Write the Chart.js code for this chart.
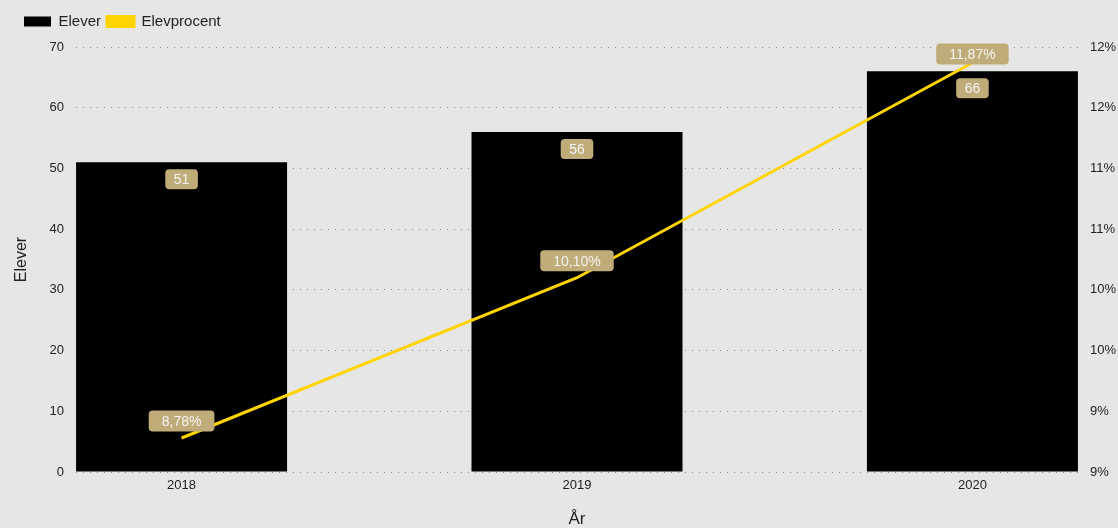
<!DOCTYPE html>
<html lang="en">
<head>
  <meta charset="UTF-8" />
  <title>Elever per år</title>
  <script src="https://cdn.jsdelivr.net/npm/chart.js"></script>
  <style>
    html, body { margin: 0; padding: 0; background: #e6e6e6; }
    #chartContainer { width: 1118px; height: 528px; }
  </style>
</head>
<body>

  <div id="chartContainer">
    <canvas id="elevChart"></canvas>
  </div>

  <script>
    // data
    const years = [2018, 2019, 2020];
    const elever = [51, 56, 66];
    const elevprocent = [8.78, 10.10, 11.87];

    Chart.defaults.font.family = "Arial, 'Liberation Sans', sans-serif";
    Chart.defaults.color = '#222';

    const labelBg = '#c0ac78';

    // extra room under the legend so the plot starts lower
    const legendGap = {
      id: 'legendGap',
      beforeLayout(chart) {
        const lg = chart.legend;
        if (lg && !lg._gapPatched) {
          const fit = lg.fit;
          lg.fit = function () {
            fit.call(this);
            this.height += 8;
          };
          lg._gapPatched = true;
        }
      }
    };

    // small stand-in for the datalabels plugin (no network for extra plugins)
    const valueLabels = {
      id: 'valueLabels',
      afterDatasetsDraw(chart) {
        const ctx = chart.ctx;
        const area = chart.chartArea;
        ctx.save();
        ctx.font = "14px Arial, 'Liberation Sans', sans-serif";
        ctx.textAlign = 'center';
        ctx.textBaseline = 'middle';
        chart.data.datasets.forEach((ds, di) => {
          const meta = chart.getDatasetMeta(di);
          meta.data.forEach((el, i) => {
            let text, cy, padX, h;
            if (ds.type === 'line') {
              text = ds.data[i].y.toFixed(2).replace('.', ',') + '%';
              cy = Math.max(el.y - 17, area.top + 7);
              padX = 13; h = 21;
            } else {
              text = String(ds.data[i].y);
              cy = el.y + 17;
              padX = 8.5; h = 20;
            }
            const w = ctx.measureText(text).width + padX * 2;
            ctx.fillStyle = labelBg;
            ctx.beginPath();
            ctx.roundRect(el.x - w / 2, cy - h / 2, w, h, 4);
            ctx.fill();
            ctx.fillStyle = '#f4f4f4';
            ctx.fillText(text, el.x, cy + 1);
          });
        });
        ctx.restore();
      }
    };

    const ctx = document.getElementById('elevChart').getContext('2d');
    new Chart(ctx, {
      type: 'bar',
      data: {
        datasets: [
          {
            label: 'Elever',
            data: years.map((y, i) => ({ x: y, y: elever[i] })),
            backgroundColor: '#000',
            borderWidth: 0,
            yAxisID: 'y',
            order: 1,
            barPercentage: 0.667,
            categoryPercentage: 0.8
          },
          {
            type: 'line',
            label: 'Elevprocent',
            data: years.map((y, i) => ({ x: y, y: elevprocent[i] })),
            borderColor: '#ffd400',
            backgroundColor: '#ffd400',
            borderWidth: 3,
            pointRadius: 0,
            tension: 0,
            yAxisID: 'y1',
            order: 0
          }
        ]
      },
      options: {
        responsive: true,
        maintainAspectRatio: false,
        animation: false,
        layout: { padding: { left: 18, right: 0, top: 8, bottom: 0 } },
        plugins: {
          tooltip: { enabled: false },
          legend: {
            position: 'top',
            align: 'start',
            labels: {
              boxWidth: 27,
              boxHeight: 10,
              padding: 6,
              color: '#222',
              font: { size: 15 },
              sort: (a, b) => a.datasetIndex - b.datasetIndex
            }
          }
        },
        scales: {
          x: {
            type: 'linear',
            offset: false,
            min: 2017.733,
            max: 2020.267,
            grid: { display: false, drawTicks: false },
            border: { display: false },
            afterBuildTicks: (scale) => {
              scale.ticks = years.map(v => ({ value: v }));
            },
            ticks: {
              padding: 6,
              color: '#222',
              font: { size: 13 },
              callback: (v) => String(v)
            },
            title: {
              display: true,
              text: 'År',
              color: '#222',
              font: { size: 17 },
              padding: { top: 0, bottom: -2 }
            },
            afterFit: (scale) => { scale.height = 56; }
          },
          y: {
            position: 'left',
            min: 0,
            max: 70,
            ticks: {
              stepSize: 10,
              padding: 12,
              color: '#222',
              font: { size: 13 }
            },
            grid: { color: '#8a8a8a', drawTicks: false, lineWidth: 1 },
            border: { display: false, dash: [1, 6] },
            title: {
              display: true,
              text: 'Elever',
              color: '#222',
              font: { size: 16 },
              padding: { top: -6, bottom: 0 }
            },
            afterFit: (scale) => { scale.width = 58; }
          },
          y1: {
            position: 'right',
            min: 8.5,
            max: 12,
            ticks: {
              stepSize: 0.5,
              padding: 12,
              color: '#222',
              font: { size: 13 },
              callback: (v) => v.toFixed(0) + '%'
            },
            grid: { display: false, drawTicks: false },
            border: { display: false },
            afterFit: (scale) => { scale.width = 40; }
          }
        }
      },
      plugins: [legendGap, valueLabels]
    });
  </script>

</body>
</html>
